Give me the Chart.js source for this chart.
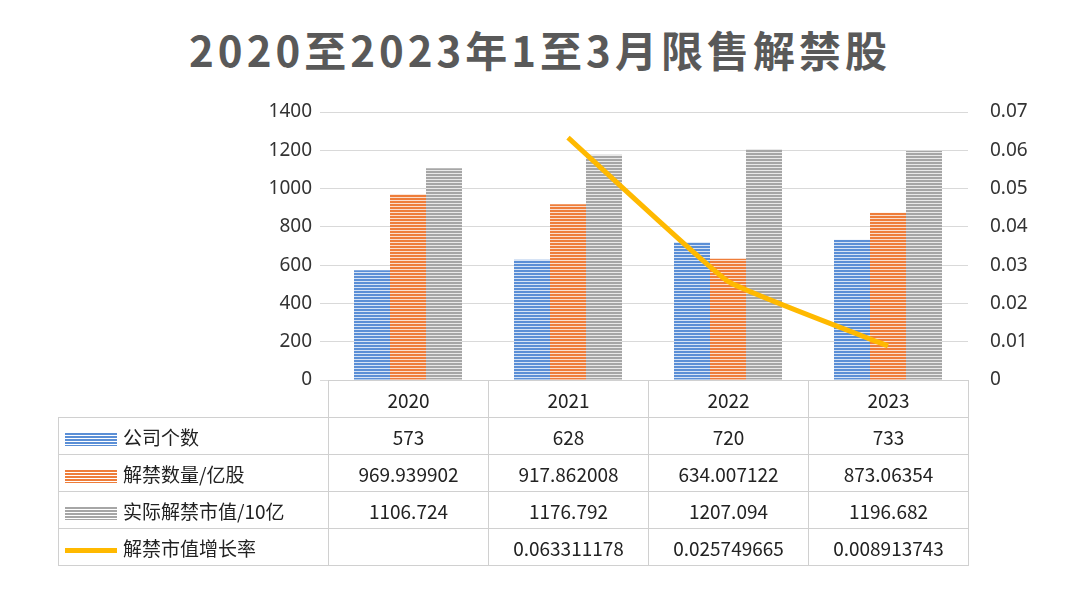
<!DOCTYPE html>
<html><head><meta charset="utf-8">
<script src="https://cdn.jsdelivr.net/npm/chart.js@4"></script>
<style>
body{margin:0;width:1080px;height:612px;background:#fff;font-family:"Noto Sans CJK SC","Noto Sans",sans-serif;overflow:hidden;position:relative}
#title{position:absolute;top:18px;left:0;width:1080px;text-align:center;font-size:42px;font-weight:bold;color:#595959;letter-spacing:4px}
#c{position:absolute;left:0;top:0}
table{position:absolute;left:58px;top:380px;border-collapse:collapse;font-size:19px;color:#222;table-layout:fixed;width:910px}
td{border:1px solid #d0d0d0;height:37px;padding:0;text-align:center;width:160px;box-sizing:border-box}
td.lab{width:270px;text-align:left;padding-left:6px}
td.blank{border:none;border-right:1px solid #d0d0d0}
.sw{display:inline-block;width:52px;height:13px;margin-right:6px;vertical-align:middle}
</style></head><body>
<div id="title">2020至2023年1至3月限售解禁股</div>
<canvas id="c" width="1080" height="612"></canvas>
<table id="t"></table>
<script>
const years=["2020","2021","2022","2023"];
const companies=[573,628,720,733];
const shares=[969.939902,917.862008,634.007122,873.06354];
const marketValue=[1106.724,1176.792,1207.094,1196.682];
const growth=[null,0.063311178,0.025749665,0.008913743];
const names=["公司个数","解禁数量/亿股","实际解禁市值/10亿","解禁市值增长率"];
const growthText=["","0.063311178","0.025749665","0.008913743"];
const colors=["#5b8fd6","#ee7d3a","#a6a6a6"];

function pat(col){const p=document.createElement('canvas');p.width=4;p.height=3;const g=p.getContext('2d');g.fillStyle=col;g.fillRect(0,0,4,3);g.fillStyle='rgba(255,255,255,0.75)';g.fillRect(0,2,4,1);return g.createPattern(p,'repeat');}
const ctx=document.getElementById('c').getContext('2d');
new Chart(ctx,{data:{labels:years,datasets:[
 {type:'line',data:growth,yAxisID:'y1',borderColor:'#ffb900',borderWidth:5,pointRadius:0,tension:0.1,spanGaps:false},
 {type:'bar',data:companies,backgroundColor:pat(colors[0]),yAxisID:'y',categoryPercentage:0.675,barPercentage:1},
 {type:'bar',data:shares,backgroundColor:pat(colors[1]),yAxisID:'y',categoryPercentage:0.675,barPercentage:1},
 {type:'bar',data:marketValue,backgroundColor:pat(colors[2]),yAxisID:'y',categoryPercentage:0.675,barPercentage:1}
]},options:{responsive:false,animation:false,
 layout:{padding:{left:248,right:52,top:112,bottom:232}},
 plugins:{legend:{display:false},tooltip:{enabled:false}},
 scales:{
  x:{display:false},
  y:{min:0,max:1400,ticks:{stepSize:200,color:'#333',font:{size:19,family:'Noto Sans'},padding:8,callback:v=>String(v)},grid:{color:'#d9d9d9'},border:{display:false},afterFit(s){s.width=80;}},
  y1:{position:'right',min:0,max:0.07,ticks:{stepSize:0.01,color:'#333',font:{size:19,family:'Noto Sans'},padding:14,callback:v=>String(+v.toFixed(2))},grid:{display:false},border:{display:false},afterFit(s){s.width=60;}}
 }}});
const t=document.getElementById('t');
let h='<tr><td class="lab blank"></td>'+years.map(y=>'<td>'+y+'</td>').join('')+'</tr>';
const rows=[companies.map(String),shares.map(String),marketValue.map(String),growthText];
rows.forEach((r,i)=>{
 const sw=i<3?'<span class="sw" style="background:repeating-linear-gradient(to bottom,'+colors[i]+' 0 2px,#fff 2px 3px)"></span>':'<span class="sw" style="height:5px;background:#ffb900"></span>';
 h+='<tr><td class="lab">'+sw+names[i]+'</td>'+r.map(v=>'<td>'+v+'</td>').join('')+'</tr>';
});
t.innerHTML=h;
</script></body></html>
